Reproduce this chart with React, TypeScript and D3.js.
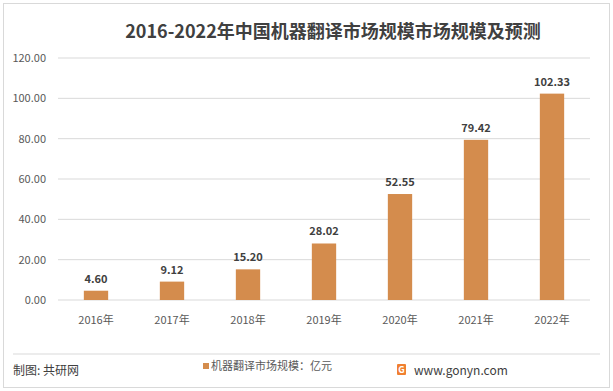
import React from 'react';
import * as d3 from 'd3';

const years = ['2016年', '2017年', '2018年', '2019年', '2020年', '2021年', '2022年'];
const marketSize = [4.6, 9.12, 15.2, 28.02, 52.55, 79.42, 102.33];
const yTicks = [0, 20, 40, 60, 80, 100, 120];

const W = 613;
const H = 391;
const margin = { top: 58, right: 23, bottom: 91, left: 58 };
const font = '"Microsoft YaHei", "Noto Sans CJK SC", "DejaVu Sans", sans-serif';
const barColor = '#D48C4D';
const textColor = '#595959';

const App = () => {
  const x = d3
    .scaleBand()
    .domain(years)
    .range([margin.left, W - margin.right])
    .paddingInner(0.68)
    .paddingOuter(0.34);
  const y = d3
    .scaleLinear()
    .domain([0, 120])
    .range([H - margin.bottom, margin.top]);

  return (
    <svg width={W} height={H} style={{ position: 'absolute', left: 0, top: 0 }} fontFamily={font}>
      <rect x={0} y={0} width={W} height={H} fill="#fff" />
      <rect x={3.5} y={3.5} width={W - 7} height={H - 7} fill="none" stroke="#d9d9d9" />
      <text x={333} y={38} textAnchor="middle" fontSize={18} fontWeight="bold" fill="#404040">
        2016-2022年中国机器翻译市场规模市场规模及预测
      </text>

      {yTicks.map(t => (
        <g key={t}>
          <line x1={margin.left} x2={W - margin.right} y1={y(t)} y2={y(t)} stroke="#d9d9d9" />
          <text x={46} y={y(t)} dy="0.35em" textAnchor="end" fontSize={11} fill={textColor}>
            {t.toFixed(2)}
          </text>
        </g>
      ))}

      {years.map((yr, i) => (
        <g key={yr}>
          <rect
            x={x(yr)}
            y={y(marketSize[i])}
            width={x.bandwidth()}
            height={y(0) - y(marketSize[i])}
            fill={barColor}
          />
          <text
            x={(x(yr) ?? 0) + x.bandwidth() / 2}
            y={y(marketSize[i]) - 8}
            textAnchor="middle"
            fontSize={11}
            fontWeight="bold"
            fill="#404040"
          >
            {marketSize[i].toFixed(2)}
          </text>
          <text
            x={(x(yr) ?? 0) + x.bandwidth() / 2}
            y={y(0) + 24}
            textAnchor="middle"
            fontSize={11}
            fill={textColor}
          >
            {yr}
          </text>
        </g>
      ))}

      <line x1={13} x2={W - 13} y1={354} y2={354} stroke="#d9d9d9" />
      <text x={13} y={375} fontSize={12} fill="#404040">制图: 共研网</text>
      <rect x={203} y={363} width={6} height={6} fill={barColor} />
      <text x={211} y={370} fontSize={11} fill={textColor}>机器翻译市场规模：亿元</text>
      <rect x={397} y={364} width={9} height={11} fill="#F08030" rx={1} />
      <text x={401.5} y={373} textAnchor="middle" fontSize={9} fontWeight="bold" fill="#fff">G</text>
      <text x={414} y={375} fontSize={12} fill="#404040">www.gonyn.com</text>
    </svg>
  );
};

export default App;
